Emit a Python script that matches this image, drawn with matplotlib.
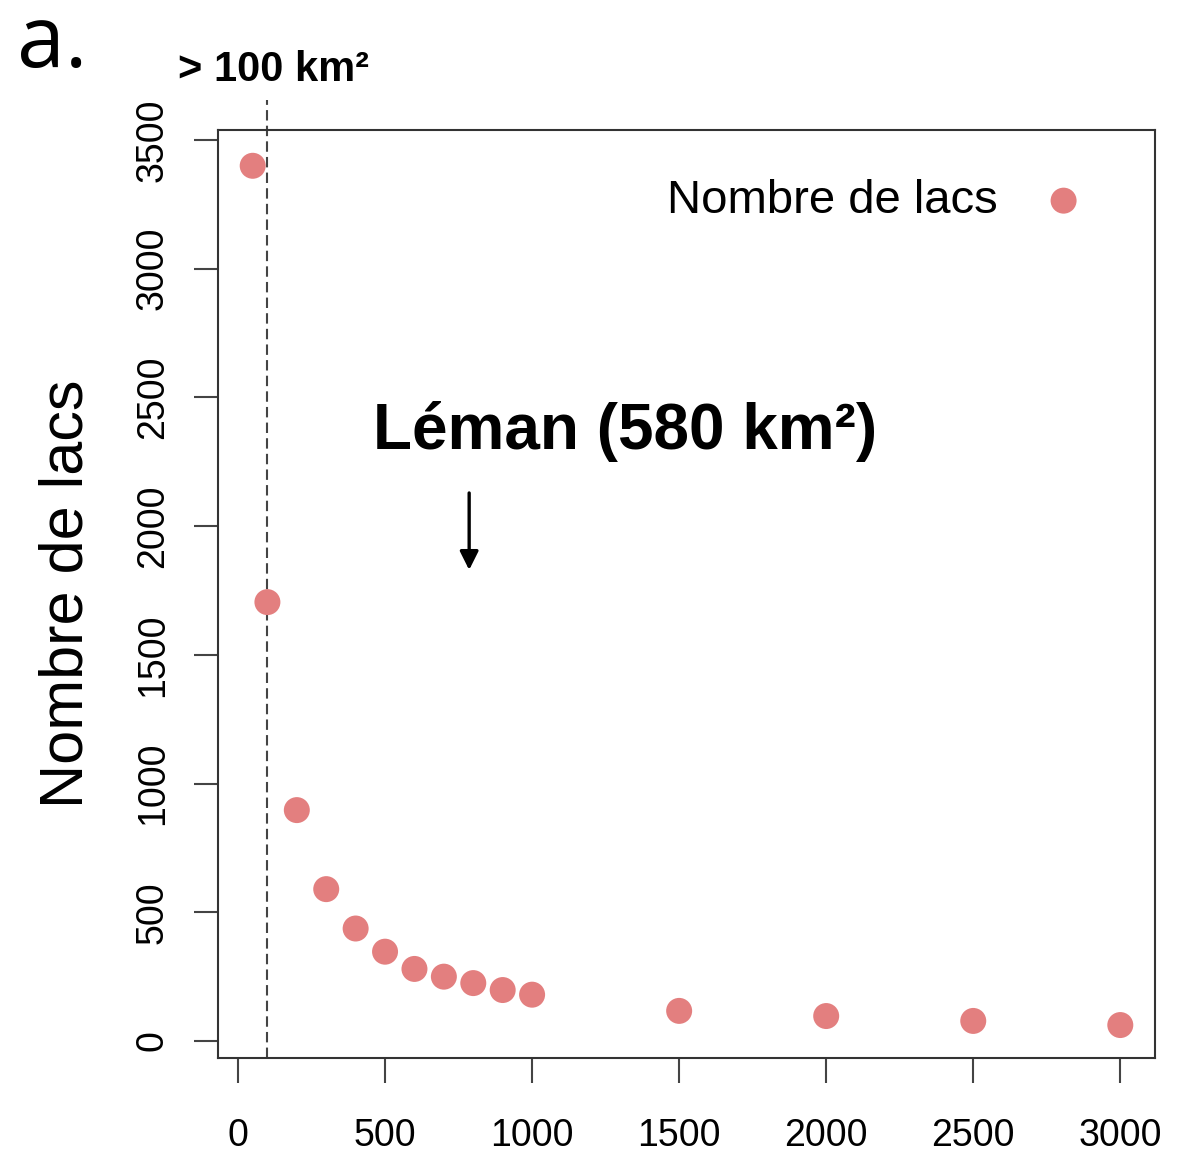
import matplotlib
matplotlib.use("Agg")
import matplotlib.pyplot as plt

# Data
surface_km2 = [50, 100, 200, 300, 400, 500, 600, 700, 800, 900, 1000, 1500, 2000, 2500, 3000]
nombre_lacs = [3400, 1705, 897, 590, 437, 347, 280, 250, 225, 198, 180, 117, 97, 78, 62]
x_ticks = [0, 500, 1000, 1500, 2000, 2500, 3000]
y_ticks = [0, 500, 1000, 1500, 2000, 2500, 3000, 3500]
threshold = 100
leman_x = 786
series_label = "Nombre de lacs"

plt.rcParams['font.family'] = ['Liberation Sans', 'DejaVu Sans']

fig = plt.figure(figsize=(11.79, 11.54), dpi=100)
ax = fig.add_axes([218/1179, 1-1058/1154, (1155-218)/1179, (1058-130)/1154])

ax.scatter(surface_km2, nombre_lacs, s=350, color='#E37F7F', edgecolors='none',
           label=series_label, zorder=3)

ax.set_xlim(-68, 3118)
ax.set_ylim(-66, 3539)
ax.set_xticks(x_ticks)
ax.set_yticks(y_ticks)
ax.set_xticklabels([str(v) for v in x_ticks])
ax.set_yticklabels([str(v) for v in y_ticks], rotation=90, va='center')

for s in ax.spines.values():
    s.set_linewidth(1.5)
    s.set_color('#333333')

ax.tick_params(axis='x', length=18, width=1.5, color='#444444', labelsize=27, pad=25)
ax.tick_params(axis='y', length=17, width=1.5, color='#444444', labelsize=27, pad=17)

ax.set_ylabel(series_label, fontsize=44, labelpad=28)

# Dashed threshold line (extends above box)
ax.plot([threshold, threshold], [-66, 3655], linestyle=(0, (5, 2.5)), lw=1.5,
        color='#444444', clip_on=False, zorder=2)
ax.text(threshold + 20, 3772, "> 100 km²", fontsize=30, fontweight='bold',
        ha='center', va='center')

# Léman annotation
ax.annotate("", xy=(leman_x, 1830), xytext=(leman_x, 2129),
            arrowprops=dict(arrowstyle='-|>', lw=2.4, color='black',
                            mutation_scale=28, shrinkA=0, shrinkB=0))
ax.text(1316, 2366, "Léman (580 km²)", fontsize=46, fontweight='bold',
        ha='center', va='center')

leg = ax.legend(loc='upper right', bbox_to_anchor=(0.973, 0.9675), frameon=False,
                markerfirst=False, fontsize=34, handletextpad=0.4, borderaxespad=0)

fig.text(17/1179, 1-67/1154, "a.", fontsize=62, family=['Open Sans', 'DejaVu Sans'],
         ha='left', va='baseline')

fig.savefig("out.png", dpi=100)
